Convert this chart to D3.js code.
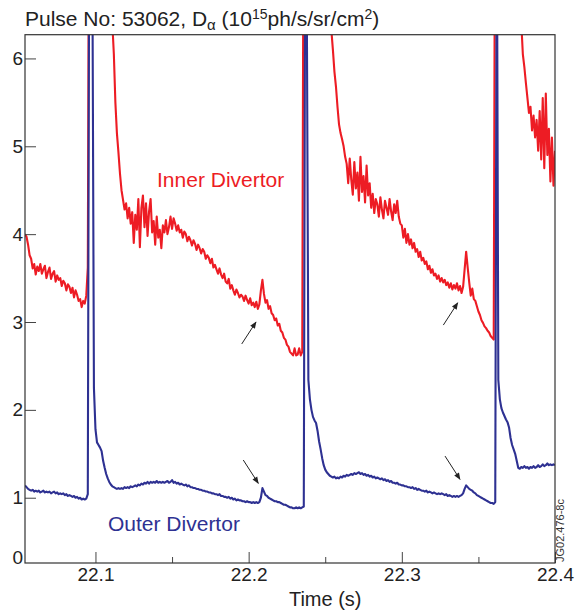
<!DOCTYPE html>
<html>
<head>
<meta charset="utf-8">
<script src="https://cdn.jsdelivr.net/npm/d3@7/dist/d3.min.js"></script>
<style>
  body { margin: 0; background: #fff; }
  svg { display: block; }
  text { font-family: "Liberation Sans", Arial, Helvetica, sans-serif; fill: #222; }
</style>
</head>
<body>
<svg id="chart" width="575" height="613"></svg>
<script>
// D-alpha signals, sampled at 1 kHz from t = 22.054 s
const sampleStart = 22.054;   // s
const sampleStep = 0.001;     // s

// Inner divertor D-alpha (10^15 ph/s/sr/cm^2); ELM peaks run off scale
const innerDivertor = [
  4.00,3.97,3.88,3.76,3.72,3.61,3.66,3.54,3.63,3.58,
  3.66,3.55,3.60,3.64,3.50,3.57,3.62,3.49,3.55,3.58,
  3.46,3.53,3.48,3.50,3.41,3.47,3.44,3.36,3.43,3.40,
  3.33,3.39,3.28,3.36,3.31,3.24,3.26,3.17,3.24,3.21,
  3.30,3.62,9.0,8.8,8.6,8.4,8.2,8.0,7.8,7.6,
  7.4,7.2,7.0,6.9,6.8,6.7,6.55,6.4,6.05,5.50,
  5.15,4.93,4.69,4.50,4.39,4.28,4.35,4.18,4.30,4.12,
  4.25,3.90,4.22,4.05,4.40,3.85,4.30,4.44,4.08,4.35,
  3.98,4.26,4.40,4.02,4.15,3.88,4.20,3.96,4.05,3.84,
  4.10,4.02,4.16,4.00,4.08,4.20,4.06,4.18,4.12,4.04,
  4.10,4.02,4.05,3.96,4.03,4.00,3.92,3.97,3.93,3.87,
  3.93,3.89,3.82,3.88,3.84,3.78,3.83,3.80,3.72,3.76,
  3.73,3.67,3.72,3.62,3.65,3.60,3.55,3.61,3.54,3.50,
  3.55,3.46,3.44,3.49,3.38,3.42,3.36,3.31,3.37,3.33,
  3.28,3.31,3.29,3.24,3.30,3.25,3.21,3.27,3.19,3.22,
  3.17,3.23,3.15,3.20,3.36,3.48,3.32,3.22,3.25,3.15,
  3.18,3.10,3.08,3.02,3.04,2.96,2.98,2.90,2.88,2.82,
  2.80,2.74,2.72,2.66,2.64,2.62,2.70,2.62,2.63,2.70,
  2.62,2.66,9.0,8.85,8.7,8.55,8.4,8.25,8.1,7.95,
  7.8,7.65,7.5,7.35,7.2,7.05,6.9,6.75,6.6,6.45,
  6.32,6.1,5.85,5.68,5.45,5.25,5.15,5.08,5.00,4.88,
  4.80,4.58,4.86,4.62,4.45,4.82,4.52,4.70,4.38,4.88,
  4.48,4.66,4.36,4.78,4.44,4.58,4.30,4.46,4.24,4.40,
  4.34,4.20,4.42,4.28,4.18,4.38,4.30,4.22,4.40,4.26,
  4.16,4.34,4.24,4.38,4.20,4.12,4.10,3.96,4.06,3.90,
  4.00,3.88,3.94,3.84,3.90,3.80,3.83,3.74,3.80,3.70,
  3.73,3.66,3.69,3.60,3.64,3.56,3.60,3.53,3.55,3.49,
  3.53,3.46,3.50,3.45,3.48,3.42,3.45,3.39,3.44,3.37,
  3.42,3.38,3.44,3.36,3.41,3.33,3.40,3.60,3.80,3.62,
  3.45,3.30,3.38,3.26,3.24,3.18,3.12,3.08,3.02,2.99,
  2.95,2.93,2.90,2.88,2.84,2.82,2.80,9.0,8.85,8.7,
  8.55,8.4,8.25,8.1,7.95,7.8,7.65,7.5,7.35,7.2,
  7.05,6.9,6.75,6.6,6.40,6.05,5.90,5.72,5.55,5.38,
  5.45,5.18,5.35,5.10,5.30,4.95,5.40,4.85,5.55,4.75,
  5.60,4.90,5.20,4.60,5.10,4.55,4.95
];

// Outer divertor D-alpha (10^15 ph/s/sr/cm^2)
const outerDivertor = [
  1.14,1.12,1.10,1.09,1.08,1.09,1.07,1.08,1.07,1.08,
  1.06,1.07,1.08,1.06,1.07,1.06,1.07,1.05,1.06,1.07,
  1.05,1.06,1.04,1.05,1.04,1.05,1.03,1.04,1.02,1.03,
  1.02,1.01,1.02,1.00,1.01,0.99,1.00,0.98,0.99,0.98,
  0.99,1.04,8.0,8.5,7.0,2.25,1.78,1.63,1.60,1.57,
  1.53,1.42,1.34,1.27,1.22,1.18,1.15,1.13,1.12,1.11,
  1.10,1.11,1.10,1.11,1.10,1.12,1.11,1.12,1.11,1.13,
  1.12,1.13,1.14,1.13,1.15,1.14,1.16,1.15,1.17,1.16,
  1.18,1.16,1.18,1.17,1.18,1.17,1.19,1.17,1.18,1.17,
  1.18,1.17,1.18,1.19,1.17,1.18,1.20,1.17,1.18,1.16,
  1.17,1.15,1.16,1.15,1.14,1.15,1.13,1.14,1.12,1.12,
  1.11,1.11,1.10,1.10,1.09,1.09,1.08,1.08,1.07,1.07,
  1.06,1.06,1.05,1.05,1.04,1.04,1.03,1.04,1.02,1.02,
  1.01,1.01,1.00,1.01,0.99,1.00,0.98,0.99,0.97,0.98,
  0.97,0.97,0.96,0.96,0.95,0.96,0.95,0.95,0.94,0.95,
  0.94,0.95,0.94,0.95,1.00,1.11,1.07,1.03,1.02,1.00,
  0.99,0.98,0.97,0.96,0.96,0.95,0.95,0.94,0.93,0.92,
  0.92,0.91,0.90,0.89,0.89,0.88,0.88,0.89,0.88,0.89,
  0.88,0.89,0.90,8.0,6.5,2.34,2.12,2.00,1.92,1.88,
  1.85,1.76,1.64,1.55,1.45,1.37,1.32,1.29,1.27,1.25,
  1.24,1.23,1.24,1.22,1.23,1.22,1.24,1.23,1.25,1.24,
  1.26,1.25,1.26,1.27,1.26,1.28,1.27,1.28,1.29,1.27,
  1.28,1.26,1.27,1.25,1.26,1.24,1.25,1.23,1.24,1.22,
  1.23,1.22,1.21,1.22,1.20,1.21,1.19,1.20,1.18,1.19,
  1.17,1.17,1.16,1.17,1.15,1.15,1.14,1.14,1.13,1.13,
  1.12,1.12,1.11,1.12,1.10,1.11,1.09,1.10,1.09,1.08,
  1.08,1.07,1.08,1.06,1.07,1.06,1.05,1.06,1.05,1.04,
  1.05,1.04,1.05,1.04,1.03,1.04,1.02,1.03,1.02,1.01,
  1.02,1.01,1.02,1.01,1.02,1.03,1.05,1.10,1.14,1.12,
  1.10,1.09,1.08,1.06,1.05,1.03,1.02,1.01,1.00,0.99,
  0.98,0.97,0.96,0.95,0.94,0.94,0.93,0.95,8.0,2.34,
  2.12,2.02,1.97,1.93,1.89,1.86,1.80,1.68,1.60,1.55,
  1.50,1.42,1.34,1.33,1.35,1.34,1.36,1.34,1.35,1.33,
  1.35,1.34,1.36,1.34,1.35,1.37,1.35,1.36,1.38,1.36,
  1.37,1.39,1.37,1.38,1.37,1.38,1.37
];

// Axis ticks and labels
const xMajorTicks = [22.1, 22.2, 22.3, 22.4];
const xMinorTicks = [22.15, 22.25, 22.35];
const yTicks = [1, 2, 3, 4, 5, 6];
const yBaseLabel = "0";

// Arrows marking the small pre-ELM bursts: [t0, v0, t1, v1]
const burstArrows = [
  [22.1955, 2.75, 22.2048, 3.00],
  [22.3271, 2.965, 22.3365, 3.218],
  [22.1965, 1.429, 22.2063, 1.164],
  [22.3282, 1.474, 22.3380, 1.209]
];

const red = "#ed1c24";
const blue = "#2e3192";

const svg = d3.select("#chart");
const plot = { left: 25, right: 555, top: 34.7, bottom: 563 };

const x = d3.scaleLinear().domain([22.054, 22.4]).range([plot.left, plot.right]);
const y = d3.scaleLinear().domain([0.257, 6.27]).range([plot.bottom, plot.top]);

const toPoints = vals => vals.map((v, i) => [sampleStart + i * sampleStep, v]);

const defs = svg.append("defs");
defs.append("clipPath").attr("id", "plotClip")
  .append("rect")
  .attr("x", plot.left).attr("y", plot.top)
  .attr("width", plot.right - plot.left).attr("height", plot.bottom - plot.top);

defs.append("marker")
  .attr("id", "arrowHead")
  .attr("viewBox", "0 0 10 10")
  .attr("refX", 9).attr("refY", 5)
  .attr("markerUnits", "userSpaceOnUse")
  .attr("markerWidth", 8).attr("markerHeight", 7)
  .attr("orient", "auto")
  .append("path").attr("d", "M0,1 L10,5 L0,9 Z").attr("fill", "#222");

const line = d3.line().x(d => x(d[0])).y(d => y(d[1]));

const traces = svg.append("g").attr("clip-path", "url(#plotClip)");
traces.append("path")
  .datum(toPoints(innerDivertor))
  .attr("d", line)
  .attr("fill", "none").attr("stroke", red)
  .attr("stroke-width", 2.1).attr("stroke-linejoin", "round");
traces.append("path")
  .datum(toPoints(outerDivertor))
  .attr("d", line)
  .attr("fill", "none").attr("stroke", blue)
  .attr("stroke-width", 2.1).attr("stroke-linejoin", "round");

// Axes: ticks point into the plot
const xAxis = svg.append("g").attr("transform", `translate(0,${plot.bottom})`)
  .call(d3.axisBottom(x).tickValues(xMajorTicks).tickSize(-11).tickPadding(5)
    .tickFormat(d3.format(".1f")));
const xMinor = svg.append("g").attr("transform", `translate(0,${plot.bottom})`)
  .call(d3.axisBottom(x).tickValues(xMinorTicks).tickSize(-6).tickFormat(""));
const yAxis = svg.append("g").attr("transform", `translate(${plot.left},0)`)
  .call(d3.axisLeft(y).tickValues(yTicks).tickSize(-11).tickPadding(2)
    .tickFormat(d3.format("d")));

[xAxis, xMinor, yAxis].forEach(g => {
  g.select(".domain").remove();
  g.selectAll(".tick line").attr("stroke", "#444").attr("stroke-width", 1);
  g.selectAll(".tick text").attr("font-size", 19).attr("fill", "#222")
    .style("font-family", '"Liberation Sans", Arial, sans-serif');
});

svg.append("text")
  .attr("x", plot.left - 2).attr("y", plot.bottom + 1)
  .attr("text-anchor", "end").attr("font-size", 19)
  .text(yBaseLabel);

// Frame
svg.append("rect")
  .attr("x", plot.left).attr("y", plot.top)
  .attr("width", plot.right - plot.left).attr("height", plot.bottom - plot.top)
  .attr("fill", "none").attr("stroke", "#333").attr("stroke-width", 1.2);

// Arrows
svg.append("g").selectAll("line").data(burstArrows).join("line")
  .attr("x1", d => x(d[0])).attr("y1", d => y(d[1]))
  .attr("x2", d => x(d[2])).attr("y2", d => y(d[3]))
  .attr("stroke", "#222").attr("stroke-width", 1)
  .attr("marker-end", "url(#arrowHead)");

// Series labels
svg.append("text")
  .attr("x", x(22.1402)).attr("y", y(4.535))
  .attr("font-size", 21).style("fill", red)
  .text("Inner Divertor");
svg.append("text")
  .attr("x", x(22.1082)).attr("y", y(0.621))
  .attr("font-size", 21).style("fill", blue)
  .text("Outer Divertor");

// Axis title
svg.append("text")
  .attr("x", x(22.25)).attr("y", 606)
  .attr("text-anchor", "middle").attr("font-size", 20)
  .text("Time (s)");

// Chart title
const title = svg.append("text").attr("x", plot.left).attr("y", 26).attr("font-size", 21);
title.append("tspan").text("Pulse No: 53062, D");
title.append("tspan").attr("font-size", 15).attr("dy", 4).text("α");
title.append("tspan").attr("dy", -4).text(" (10");
title.append("tspan").attr("font-size", 14).attr("dy", -7).text("15");
title.append("tspan").attr("dy", 7).text("ph/s/sr/cm");
title.append("tspan").attr("font-size", 14).attr("dy", -7).text("2");
title.append("tspan").attr("dy", 7).text(")");

// Figure reference tag
svg.append("text")
  .attr("transform", `translate(${plot.right + 9},${plot.bottom - 1}) rotate(-90)`)
  .attr("font-size", 11).style("fill", "#333")
  .text("JG02.476-8c");
</script>
</body>
</html>
